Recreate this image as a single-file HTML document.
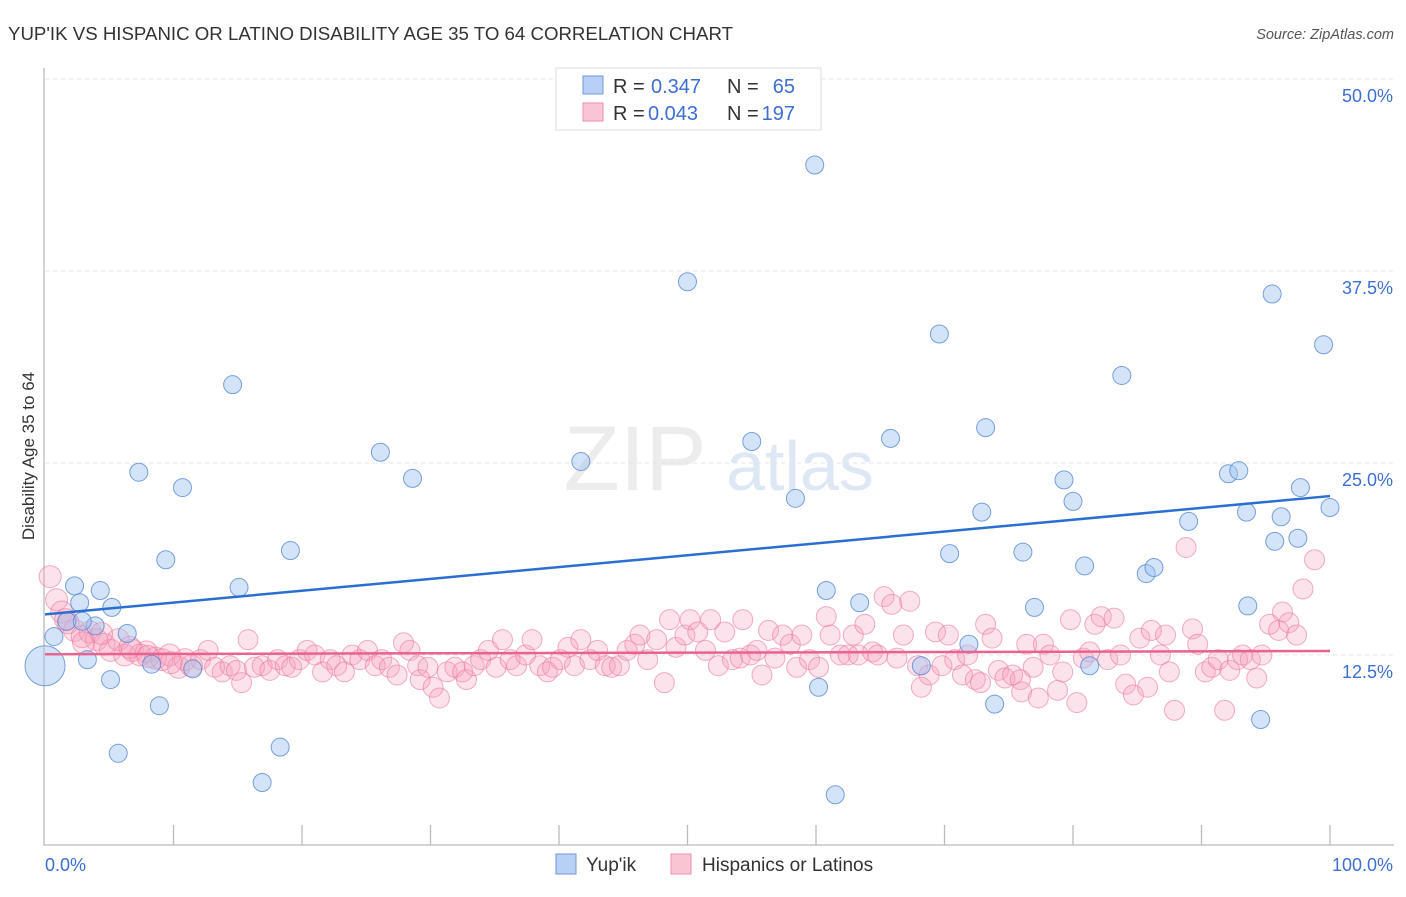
<!DOCTYPE html>
<html><head><meta charset="utf-8"><style>
body{margin:0;background:#fff;font-family:"Liberation Sans",sans-serif}
svg text{font-family:"Liberation Sans",sans-serif}
</style></head><body>
<svg id="chart" width="1406" height="892" xmlns="http://www.w3.org/2000/svg">
<text x="8" y="40" font-size="18.5" fill="#333" textLength="725" lengthAdjust="spacingAndGlyphs">YUP'IK VS HISPANIC OR LATINO DISABILITY AGE 35 TO 64 CORRELATION CHART</text>
<text x="1394" y="39" font-size="14.5" fill="#555" font-style="italic" text-anchor="end">Source: ZipAtlas.com</text>
<g>
<text x="635" y="490" font-size="92" fill="#ececec" font-family="Liberation Serif" text-anchor="middle">ZIP</text>
<text x="800" y="490" font-size="70" fill="#dde8f4" text-anchor="middle">atlas</text>
</g>
<g id="grid"></g>
<g id="axes"></g>
<g id="pink"></g>
<g id="blue"></g>
<g id="trends"></g>
<g>
<rect x="556" y="68" width="265" height="62" fill="#fff" stroke="#ddd"/>
<rect x="583" y="76" width="20" height="18" fill="#b7d0f3" stroke="#6f9ad8"/>
<rect x="583" y="103" width="20" height="18" fill="#f9c4d4" stroke="#ef8fae"/>
<text x="613" y="93" font-size="20" fill="#333">R =</text>
<text x="651" y="93" font-size="20" fill="#3c6fd1">0.347</text>
<text x="727" y="93" font-size="20" fill="#333">N =</text>
<text x="795" y="93" font-size="20" fill="#3c6fd1" text-anchor="end">65</text>
<text x="613" y="120" font-size="20" fill="#333">R =</text>
<text x="648" y="120" font-size="20" fill="#3c6fd1">0.043</text>
<text x="727" y="120" font-size="20" fill="#333">N =</text>
<text x="795" y="120" font-size="20" fill="#3c6fd1" text-anchor="end">197</text>
</g>
<g>
<rect x="556" y="854" width="20" height="20" fill="#b7d0f3" stroke="#6f9ad8"/>
<text x="586" y="871" font-size="19" fill="#333">Yup'ik</text>
<rect x="671" y="854" width="20" height="20" fill="#f9c4d4" stroke="#ef8fae"/>
<text x="702" y="871" font-size="19" fill="#333">Hispanics or Latinos</text>
</g>
<text transform="translate(34,456) rotate(-90)" font-size="17" fill="#333" text-anchor="middle">Disability Age 35 to 64</text>
</svg>
<script>
const yTicks=[12.5,25,37.5,50];
const yTickLabels=["12.5%","25.0%","37.5%","50.0%"];
const xTickLabels=["0.0%","100.0%"];
const blueX=[0,0.7,2.3,2.7,1.7,3.9,4.3,5.2,3.3,5.1,6.4,5.7,7.3,8.3,8.9,9.4,10.7,11.5,14.6,15.1,18.3,16.9,19.1,26.1,28.6,41.7,50.0,55.0,58.4,59.9,60.8,60.2,61.5,63.4,65.8,68.2,69.6,70.4,71.9,72.9,73.2,73.9,76.1,77.0,79.3,80.0,80.9,81.3,83.8,85.7,86.3,89.0,92.1,92.9,93.5,93.6,94.6,95.5,95.7,96.2,97.5,97.7,99.5,100.0,2.9];
const blueY=[11.8,13.7,17.0,15.9,14.7,14.4,16.7,15.6,12.2,10.9,13.9,6.1,24.4,11.9,9.2,18.7,23.4,11.6,30.1,16.9,6.5,4.2,19.3,25.7,24.0,25.1,36.8,26.4,22.7,44.4,16.7,10.4,3.4,15.9,26.6,11.8,33.4,19.1,13.2,21.8,27.3,9.3,19.2,15.6,23.9,22.5,18.3,11.8,30.7,17.8,18.2,21.2,24.3,24.5,21.8,15.7,8.3,36.0,19.9,21.5,20.1,23.4,32.7,22.1,14.7];
const pinkX=[0.4,0.9,1.3,1.8,2.3,2.9,3.5,4.0,4.6,5.1,5.7,6.2,6.8,7.4,7.9,8.6,9.1,9.7,10.4,10.9,11.4,12.1,12.7,13.2,13.8,14.4,14.9,15.3,15.8,16.3,16.9,17.5,18.1,18.7,19.2,19.8,20.4,21.0,21.6,22.2,22.7,23.3,23.9,24.5,25.1,25.7,26.2,26.8,27.4,27.9,28.4,29.0,29.2,29.8,30.2,30.7,31.3,31.9,32.5,32.8,33.4,33.9,34.5,35.1,35.6,36.2,36.7,37.4,37.9,38.5,39.1,39.5,40.1,40.7,41.2,41.7,42.4,43.0,43.6,44.1,44.7,45.3,45.9,46.3,46.9,47.6,48.2,48.6,49.1,49.8,50.2,50.8,51.4,51.8,52.4,52.9,53.5,54.1,54.3,54.9,55.4,55.8,56.3,56.8,57.4,58.0,58.5,58.9,59.5,60.2,60.8,61.1,61.9,62.5,62.9,63.3,63.8,64.4,64.8,65.3,65.9,66.3,66.8,67.3,67.9,68.2,68.8,69.3,69.8,70.3,70.8,71.4,71.8,72.4,72.8,73.2,73.7,74.2,74.7,75.3,75.9,76.0,76.4,76.9,77.3,77.7,78.2,78.8,79.2,79.8,80.3,80.8,81.3,81.7,82.2,82.7,83.2,83.7,84.1,84.7,85.2,85.8,86.1,86.8,87.2,87.5,87.9,88.8,89.3,89.7,90.3,90.8,91.3,91.8,92.2,92.8,93.2,93.8,94.3,94.7,95.3,96.0,96.3,96.8,97.4,97.9,98.8,1.6,3.0,4.4,6.6,8.0,9.8];
const pinkY=[17.6,16.1,15.3,14.6,14.1,13.7,14.0,13.5,13.2,12.8,13.5,12.5,12.8,12.5,12.7,12.3,12.2,12.5,11.7,12.2,11.8,12.2,12.8,11.7,11.4,11.8,11.5,10.7,13.5,11.7,11.8,11.5,12.2,11.8,11.7,12.2,12.8,12.5,11.4,12.2,11.8,11.4,12.5,12.2,12.8,11.8,12.2,11.7,11.2,13.3,12.8,11.8,10.9,11.7,10.4,9.7,11.4,11.7,11.4,10.9,11.8,12.2,12.8,11.7,13.5,12.2,11.8,12.5,13.5,11.8,11.4,11.7,12.2,13.0,11.8,13.5,12.2,12.8,11.8,11.7,11.8,12.8,13.2,13.8,12.2,13.5,10.7,14.8,13.0,13.8,14.8,14.0,12.8,14.8,11.8,14.0,12.2,12.3,14.8,12.5,12.8,11.2,14.1,12.3,13.8,13.2,11.7,13.8,12.2,11.7,15.0,13.8,12.5,12.5,13.8,12.5,14.5,12.7,12.5,16.3,15.8,12.3,13.8,16.0,11.8,10.4,11.2,14.0,11.8,13.8,12.2,11.2,12.5,10.9,10.7,14.5,13.6,11.5,11.0,11.2,10.9,10.1,13.2,11.7,9.7,13.2,12.5,10.2,11.4,14.8,9.4,12.3,12.7,14.5,15.0,12.2,14.9,12.5,10.6,9.9,13.6,10.4,14.1,12.5,13.8,11.4,8.9,19.5,14.2,13.2,11.4,11.7,12.2,8.9,11.5,12.2,12.5,12.2,11.0,12.5,14.5,14.1,15.3,14.6,13.8,16.8,18.7,14.8,13.3,13.9,13.0,12.4,12.0];
const NS="http://www.w3.org/2000/svg";
const X0=45,X1=1330,Y0=847,YPX=15.36;
const sx=v=>X0+(X1-X0)*v/100, sy=v=>Y0-v*YPX;
function mk(tag,attrs,parent){const e=document.createElementNS(NS,tag);for(const k in attrs)e.setAttribute(k,attrs[k]);document.getElementById(parent).appendChild(e);return e;}
yTicks.forEach((t,i)=>{
 const g=mk('line',{x1:45,x2:1394,y1:sy(t),y2:sy(t),stroke:'#e4e4e4','stroke-dasharray':'4,4'},'grid');
 
 
 const l=mk('text',{x:1393,y:sy(t)+23,'font-size':18,fill:'#3c6fd1','text-anchor':'end'},'grid');l.textContent=yTickLabels[i];
 
 
});
const ax=mk('path',{d:`M44,68 V845 H1394`,stroke:'#bbb','stroke-width':1.3,fill:'none'},'axes');


for(let i=1;i<=10;i++){const t=mk('line',{x1:sx(i*10),x2:sx(i*10),y1:825,y2:845,stroke:'#bbb','stroke-width':1.3},'axes');
 
 }
[[0,'start',45],[1,'end',1393]].forEach(([i,a,x])=>{const t=mk('text',{x:x,y:871,'font-size':18,fill:'#3c6fd1','text-anchor':a},'axes');t.textContent=xTickLabels[i];
 
 });
pinkX.forEach((x,i)=>{const c=mk('circle',{cx:sx(x),cy:sy(pinkY[i]),r:x<12?11:10,fill:'rgba(246,160,188,0.3)',stroke:'rgba(236,120,158,0.6)','stroke-width':1},'pink');
 
 });
blueX.forEach((x,i)=>{const c=mk('circle',{cx:sx(x),cy:sy(blueY[i]),r:i===0?20:9,fill:'rgba(160,196,240,0.45)',stroke:'rgba(80,130,210,0.75)','stroke-width':1},'blue');
 
 });
function trend(xs,ys,color,name){const n=xs.length;let mx=0,my=0;xs.forEach((x,i)=>{mx+=x;my+=ys[i]});mx/=n;my/=n;let sxy=0,sxx=0;xs.forEach((x,i)=>{sxy+=(x-mx)*(ys[i]-my);sxx+=(x-mx)**2});const b=sxy/sxx,a=my-b*mx;
 const l=mk('line',{x1:sx(0),y1:sy(a),x2:sx(100),y2:sy(a+b*100),stroke:color,'stroke-width':2.5},'trends');
 
 }
trend(pinkX,pinkY,'#e8638f','hispanic-trend-line');
trend(blueX,blueY,'#2a6fd0','yupik-trend-line');
</script>
</body></html>
